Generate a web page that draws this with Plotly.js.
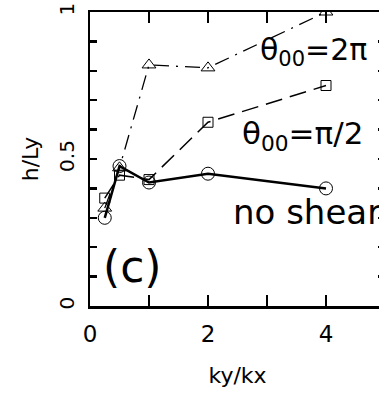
<!DOCTYPE html>
<html><head><meta charset="utf-8">
<script src="https://cdn.plot.ly/plotly-3.0.1.min.js"></script>
<style>html,body{margin:0;padding:0;overflow:hidden;background:#fff}#c{width:395px;height:394px}</style>
</head><body><div id="c"></div>
<script>
const kyOverKx = [0.25, 0.5, 1, 2, 4];
const noShear = [0.30, 0.476, 0.42, 0.45, 0.40];
const thetaPiHalf = [0.367, 0.445, 0.43, 0.625, 0.75];
const theta2Pi = [0.333, 0.47, 0.82, 0.81, 1.0];
const xTickVals = [0, 2, 4];
const xTickText = ['0', '2', '4'];
const xMinorVals = [1, 3, 5];
const yTickVals = [0, 0.5, 1];
const yTickText = ['0', '0.5', '1'];
const yMinorVals = [0.1, 0.2, 0.3, 0.4, 0.6, 0.7, 0.8, 0.9];

const F = 'DejaVu Sans, sans-serif';
const traces = [
  {x: kyOverKx, y: theta2Pi, mode: 'lines+markers', line: {color: '#000', width: 1.3, dash: '15px,7px,2px,7px'},
   marker: {symbol: 'triangle-up-open', size: 12, color: '#000', line: {width: 1}}},
  {x: kyOverKx, y: thetaPiHalf, mode: 'lines+markers', line: {color: '#000', width: 1.5, dash: '17px,8px'},
   marker: {symbol: 'square-open', size: 10, color: '#000', line: {width: 1}}},
  {x: kyOverKx, y: noShear, mode: 'lines+markers', line: {color: '#000', width: 2.5},
   marker: {symbol: 'circle-open', size: 13, color: '#000', line: {width: 1}}}
];
const axBase = {showgrid: false, zeroline: false, showline: true, linewidth: 2.5, linecolor: '#000',
  mirror: 'ticks', ticks: 'inside', tickcolor: '#000', tickwidth: 2.5, tickmode: 'array'};
const layout = {
  width: 395, height: 394, showlegend: false,
  margin: {l: 90, r: 10, t: 12, b: 88},
  paper_bgcolor: '#fff', plot_bgcolor: '#fff',
  xaxis: Object.assign({}, axBase, {range: [0, 5], tickvals: xTickVals, ticktext: xTickText, ticklen: 11,
    minor: {tickvals: xMinorVals, ticklen: 11, tickwidth: 2.5, tickcolor: '#000', ticks: 'inside', showgrid: false},
    tickfont: {family: F, size: 23, color: '#000'}, ticklabelstandoff: 6,
    title: {text: 'ky/kx', font: {family: F, size: 22, color: '#000'}, standoff: 22}}),
  yaxis: Object.assign({}, axBase, {range: [0, 1], tickvals: yTickVals, ticktext: yTickText, ticklen: 7,
    minor: {tickvals: yMinorVals, ticklen: 7, tickwidth: 2.5, tickcolor: '#000', ticks: 'inside', showgrid: false},
    tickfont: {family: F, size: 20, color: '#000'}, tickangle: -90, ticklabelstandoff: 6,
    title: {text: 'h/Ly', font: {family: F, size: 22, color: '#000'}, standoff: 10}}),
  annotations: [
    {x: 2.84, y: 0.865, xref: 'x', yref: 'y', xanchor: 'left', yanchor: 'middle', showarrow: false,
     text: 'θ<sub>00</sub>=2π', font: {family: F, size: 30, color: '#000'}},
    {x: 2.55, y: 0.58, xref: 'x', yref: 'y', xanchor: 'left', yanchor: 'middle', showarrow: false,
     text: 'θ<sub>00</sub>=π/2', font: {family: F, size: 31, color: '#000'}},
    {x: 2.39, y: 0.32, xref: 'x', yref: 'y', xanchor: 'left', yanchor: 'middle', showarrow: false,
     text: 'no shear', font: {family: F, size: 34, color: '#000'}},
    {x: 0.18, y: 0.135, xref: 'x', yref: 'y', xanchor: 'left', yanchor: 'middle', showarrow: false,
     text: '(c)', font: {family: F, size: 44, color: '#000'}}
  ]
};
Plotly.newPlot('c', traces, layout, {displayModeBar: false, staticPlot: true});
</script></body></html>
